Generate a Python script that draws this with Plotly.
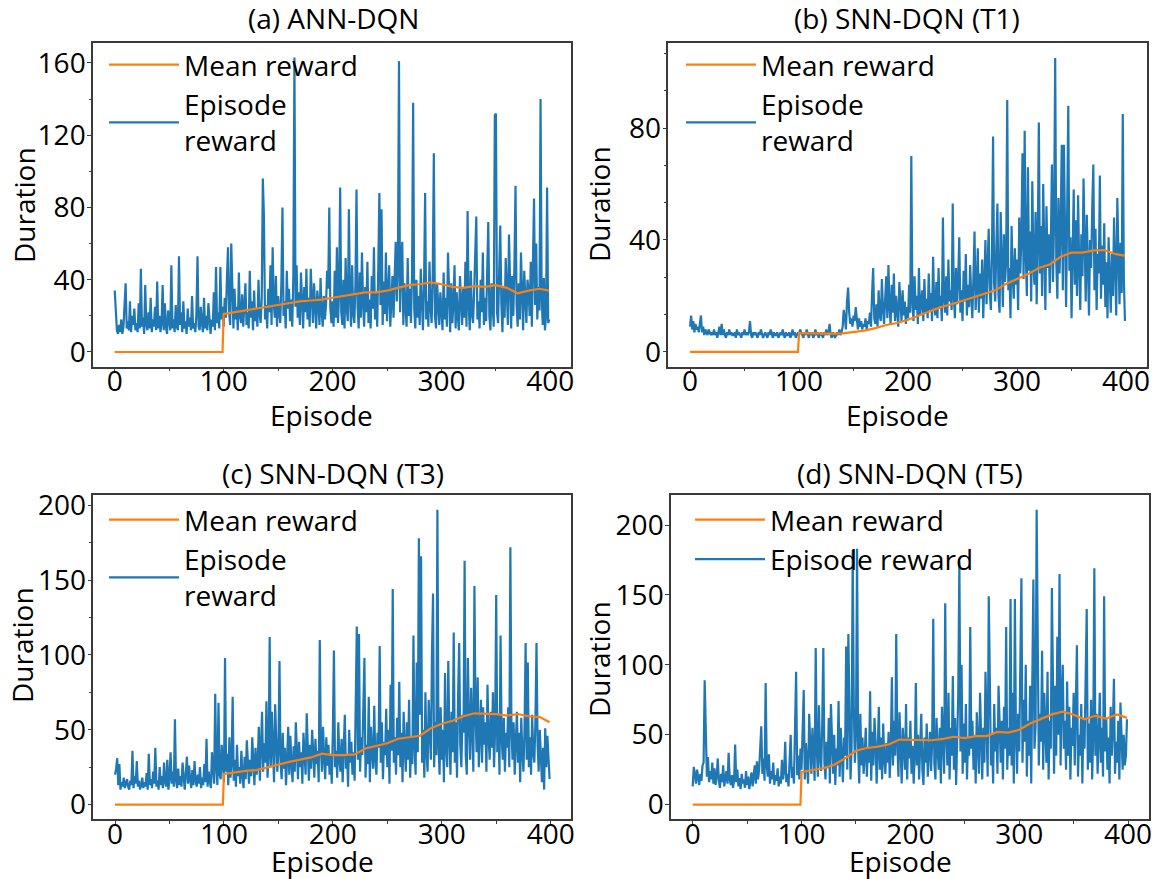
import plotly.graph_objects as go

# ---------------- data ----------------
episodes = list(range(400))
mean_episodes = [0, 99, 100, 110, 120, 130, 140, 150, 160, 170, 180, 190, 200, 210, 220, 230,
                 240, 250, 260, 270, 280, 290, 300, 310, 320, 330, 340, 350, 360, 370, 380, 390, 399]

x_tick_values = [0, 100, 200, 300, 400]
x_tick_labels = ["0", "100", "200", "300", "400"]

titles = ["(a) ANN-DQN", "(b) SNN-DQN (T1)", "(c) SNN-DQN (T3)", "(d) SNN-DQN (T5)"]
mean_label = "Mean reward"
episode_labels = ["Episode<br>reward", "Episode<br>reward", "Episode<br>reward", "Episode reward"]
x_title = "Episode"
y_title = "Duration"

ann_dqn_reward = [
    34, 22, 12, 10, 15, 11, 18, 10, 14, 26, 38, 13, 17, 12, 28, 11, 20, 15, 24, 12,
    16, 11, 27, 13, 46, 14, 19, 10, 37, 15, 12, 22, 13, 30, 11, 18, 14, 25, 12, 39,
    13, 20, 11, 16, 37, 12, 27, 14, 10, 23, 15, 12, 48, 13, 18, 11, 26, 14, 12, 53,
    15, 22, 11, 28, 13, 17, 10, 24, 14, 19, 12, 31, 13, 16, 11, 21, 53, 14, 12, 25,
    16, 11, 30, 13, 20, 12, 27, 15, 10, 18, 14, 33, 12, 47, 16, 22, 13, 47, 18, 25,
    14, 30, 19, 40, 58, 22, 15, 60, 28, 13, 35, 18, 25, 12, 44, 20, 16, 32, 14, 27,
    38, 15, 22, 13, 45, 19, 28, 12, 34, 17, 24, 14, 40, 21, 16, 30, 96, 75, 18, 26,
    13, 35, 22, 48, 15, 58, 27, 19, 42, 14, 31, 22, 16, 38, 80, 20, 28, 13, 45, 24,
    35, 17, 29, 14, 42, 163, 25, 48, 19, 33, 15, 44, 27, 13, 36, 22, 46, 18, 30, 14,
    46, 24, 16, 38, 20, 13, 34, 27, 15, 41, 22, 14, 31, 18, 26, 45, 35, 80, 24, 16,
    28, 14, 45, 19, 58, 16, 33, 91, 22, 15, 40, 13, 52, 24, 17, 79, 30, 14, 48, 21,
    16, 37, 90, 25, 13, 44, 19, 55, 28, 14, 36, 22, 50, 16, 29, 13, 42, 24, 58, 18,
    33, 14, 47, 88, 26, 79, 15, 39, 21, 55, 17, 30, 48, 14, 25, 42, 19, 36, 61, 28,
    45, 161, 22, 50, 61, 15, 38, 25, 14, 52, 20, 35, 16, 44, 138, 24, 13, 40, 19, 31,
    15, 46, 22, 12, 36, 88, 18, 28, 14, 50, 25, 16, 43, 110, 20, 13, 38, 24, 15, 33,
    21, 12, 44, 18, 30, 14, 55, 23, 11, 38, 16, 27, 48, 13, 33, 20, 12, 42, 25, 15,
    36, 19, 50, 14, 78, 26, 12, 45, 21, 16, 33, 58, 75, 18, 28, 13, 40, 22, 55, 15,
    30, 17, 46, 72, 20, 12, 38, 25, 14, 131, 132, 22, 16, 44, 70, 27, 11, 36, 19, 52,
    24, 15, 65, 30, 13, 42, 20, 48, 92, 26, 14, 38, 18, 55, 22, 12, 45, 28, 16, 40,
    34, 20, 50, 14, 44, 85, 26, 60, 18, 36, 23, 140, 30, 15, 41, 12, 20, 91, 16, 18,
]
ann_dqn_mean = [0, 0, 21, 22, 23, 24, 25, 26, 27, 28, 28.5, 29, 30, 31, 32, 33, 33, 34, 35.5, 37,
                37.5, 38.5, 37.5, 36, 35.5, 36.5, 36, 37, 35.5, 32.5, 34, 35, 34]

snn_t1_reward = [
    9, 13, 8, 11, 7, 10, 8, 9, 7, 11, 13, 7, 9, 6, 8, 7, 6, 8, 7, 6,
    7, 6, 8, 6, 7, 5, 7, 9, 6, 10, 6, 8, 6, 5, 7, 6, 8, 6, 7, 6,
    6, 7, 5, 8, 6, 7, 6, 5, 7, 6, 8, 6, 7, 6, 7, 11, 6, 5, 7, 6,
    7, 6, 5, 7, 6, 8, 6, 5, 6, 7, 6, 5, 7, 6, 8, 6, 5, 7, 6, 6,
    7, 5, 6, 7, 6, 8, 6, 5, 7, 6, 6, 7, 5, 6, 8, 6, 7, 5, 6, 7,
    6, 8, 7, 6, 5, 7, 6, 8, 6, 5, 7, 6, 7, 5, 6, 8, 6, 7, 5, 6,
    7, 6, 5, 7, 6, 8, 6, 7, 10, 6, 5, 7, 6, 5, 6, 7, 6, 8, 6, 7,
    9, 15, 12, 8, 18, 23, 14, 10, 12, 9, 13, 11, 16, 10, 8, 12, 9, 11, 8, 10,
    9, 12, 8, 11, 10, 14, 9, 21, 30, 12, 10, 17, 9, 22, 13, 11, 26, 15, 10, 19,
    27, 12, 31, 16, 10, 24, 14, 28, 11, 20, 13, 9, 25, 15, 11, 22, 13, 18, 10, 16,
    12, 24, 14, 70, 18, 11, 27, 15, 20, 10, 30, 13, 17, 22, 11, 26, 14, 19, 12, 28,
    15, 21, 11, 34, 17, 13, 25, 12, 30, 16, 20, 11, 48, 19, 14, 27, 13, 33, 18, 22,
    15, 53, 20, 12, 30, 17, 26, 41, 14, 22, 11, 29, 18, 35, 13, 24, 16, 31, 20, 12,
    27, 43, 15, 23, 37, 14, 28, 19, 33, 12, 25, 40, 17, 30, 44, 21, 15, 35, 77, 24,
    18, 38, 53, 20, 14, 50, 29, 16, 42, 25, 32, 90, 22, 30, 12, 45, 27, 19, 37, 24,
    33, 15, 48, 28, 41, 71, 26, 79, 35, 20, 66, 29, 43, 18, 61, 31, 24, 50, 17, 39,
    82, 28, 45, 20, 60, 34, 15, 52, 30, 42, 21, 38, 67, 25, 48, 105, 32, 19, 55, 28,
    44, 74, 22, 74, 38, 16, 50, 88, 29, 41, 12, 35, 58, 24, 47, 20, 56, 31, 15, 42,
    27, 62, 36, 18, 49, 25, 13, 40, 30, 52, 67, 22, 44, 15, 35, 28, 63, 19, 38, 24,
    46, 16, 32, 12, 41, 27, 14, 35, 20, 48, 24, 13, 55, 30, 17, 39, 21, 85, 26, 11,
]
snn_t1_mean = [0, 0, 6.7, 6.6, 6.6, 6.5, 6.6, 7.0, 7.6, 8.5, 9.6, 10.3, 11.5, 13, 14.5, 16, 17,
               18.3, 19.6, 20.8, 22, 24.3, 26, 27.8, 30, 31.2, 34, 35.5, 35.5, 36.3, 36.4, 35, 34.3]

snn_t3_reward = [
    20, 24, 31, 13, 27, 10, 15, 12, 18, 11, 14, 17, 12, 10, 16, 13, 36, 11, 19, 14,
    29, 12, 16, 10, 13, 18, 11, 15, 12, 21, 10, 34, 13, 17, 11, 22, 14, 38, 12, 16,
    10, 25, 13, 19, 11, 28, 15, 12, 30, 10, 18, 35, 14, 22, 12, 57, 16, 11, 24, 13,
    19, 12, 28, 15, 10, 21, 32, 14, 26, 17, 11, 23, 13, 29, 16, 12, 20, 14, 25, 11,
    18, 13, 27, 15, 44, 12, 22, 16, 11, 35, 19, 14, 74, 25, 13, 68, 20, 17, 40, 28,
    15, 98, 22, 34, 13, 45, 18, 28, 72, 16, 30, 12, 40, 19, 25, 14, 36, 20, 11, 32,
    17, 43, 22, 14, 30, 19, 45, 24, 13, 38, 20, 27, 52, 16, 35, 62, 22, 41, 28, 69,
    18, 33, 112, 25, 62, 30, 15, 67, 40, 22, 35, 96, 28, 17, 48, 24, 38, 13, 30, 52,
    20, 46, 27, 15, 39, 22, 55, 30, 17, 42, 25, 35, 14, 48, 28, 20, 61, 33, 16, 40,
    24, 50, 30, 18, 44, 27, 36, 15, 110, 38, 22, 52, 31, 17, 45, 26, 40, 20, 33, 14,
    48, 103, 25, 36, 18, 55, 30, 22, 44, 15, 38, 60, 24, 33, 12, 50, 28, 42, 20, 35,
    16, 58, 119, 30, 114, 22, 45, 33, 60, 98, 18, 40, 27, 72, 15, 52, 35, 24, 66, 30,
    20, 48, 38, 106, 28, 55, 17, 42, 33, 64, 25, 50, 14, 80, 36, 144, 28, 45, 20, 58,
    33, 82, 25, 48, 15, 62, 38, 22, 55, 30, 70, 18, 45, 27, 113, 40, 20, 95, 35, 178,
    60, 166, 28, 50, 18, 75, 35, 22, 70, 45, 30, 100, 141, 25, 55, 33, 197, 40, 20, 65,
    30, 50, 15, 88, 38, 25, 96, 45, 20, 62, 35, 115, 28, 55, 18, 72, 108, 40, 25, 60,
    48, 163, 33, 20, 98, 55, 30, 78, 40, 22, 146, 60, 35, 85, 25, 50, 70, 28, 65, 40,
    55, 22, 80, 45, 30, 62, 38, 75, 25, 50, 140, 35, 60, 20, 113, 45, 30, 58, 22, 48,
    38, 65, 25, 172, 50, 30, 55, 20, 42, 62, 28, 48, 15, 58, 35, 22, 50, 108, 30, 95,
    25, 45, 20, 60, 35, 28, 55, 108, 40, 22, 50, 30, 15, 38, 10, 51, 25, 46, 33, 17,
]
snn_t3_mean = [0, 0, 20.5, 21.5, 22.5, 23, 25, 27, 28.5, 30, 31.5, 34, 33, 33, 33.5, 37.5, 39.5,
               41, 44, 45, 46, 51, 54, 56, 59, 61, 61, 60.5, 59.5, 60.5, 59, 58.5, 55]

snn_t5_reward = [
    13, 27, 22, 15, 25, 18, 14, 22, 17, 28, 30, 89, 45, 20, 34, 16, 24, 18, 30, 15,
    26, 14, 20, 33, 17, 12, 22, 16, 28, 13, 19, 24, 15, 37, 18, 14, 21, 12, 17, 43,
    16, 25, 13, 19, 11, 22, 15, 18, 12, 24, 14, 20, 11, 17, 23, 13, 19, 28, 15, 31,
    18, 25, 40, 56, 22, 33, 17, 87, 28, 20, 36, 15, 24, 18, 30, 14, 21, 17, 26, 13,
    20, 15, 32, 18, 24, 45, 16, 22, 13, 38, 50, 19, 27, 15, 60, 95, 21, 35, 18, 40,
    25, 50, 82, 18, 44, 30, 15, 65, 37, 22, 55, 28, 17, 112, 40, 20, 71, 33, 24, 58,
    112, 30, 18, 45, 26, 62, 15, 72, 35, 22, 50, 14, 40, 28, 74, 20, 55, 32, 16, 48,
    35, 113, 25, 122, 60, 18, 42, 182, 70, 30, 50, 183, 40, 15, 65, 28, 48, 22, 35, 55,
    20, 40, 30, 81, 17, 52, 28, 62, 45, 15, 38, 70, 25, 48, 18, 58, 33, 22, 44, 30,
    52, 19, 40, 91, 28, 60, 35, 122, 45, 20, 66, 30, 15, 55, 38, 25, 72, 18, 48, 33,
    60, 22, 42, 15, 35, 87, 28, 50, 18, 40, 65, 25, 14, 48, 30, 58, 20, 38, 52, 24,
    45, 133, 30, 18, 62, 40, 25, 55, 15, 70, 35, 22, 144, 48, 28, 80, 18, 55, 35, 92,
    25, 62, 14, 45, 80, 174, 38, 100, 22, 58, 30, 72, 18, 48, 35, 127, 40, 60, 25, 50,
    15, 66, 35, 22, 80, 45, 18, 55, 30, 95, 40, 20, 149, 62, 28, 50, 15, 72, 38, 55,
    22, 85, 45, 30, 60, 18, 70, 40, 127, 25, 55, 35, 147, 28, 80, 15, 147, 50, 22, 65,
    38, 90, 162, 30, 75, 45, 100, 20, 60, 35, 85, 15, 70, 161, 40, 55, 211, 90, 28, 65,
    45, 110, 25, 80, 50, 30, 95, 18, 60, 40, 155, 70, 22, 85, 35, 120, 50, 165, 28, 75,
    100, 40, 60, 25, 88, 35, 70, 18, 55, 42, 80, 28, 65, 114, 20, 50, 35, 72, 15, 62,
    40, 95, 140, 25, 58, 30, 75, 18, 50, 169, 35, 65, 22, 48, 80, 30, 55, 20, 149, 38,
    62, 25, 48, 15, 70, 35, 55, 90, 22, 45, 30, 60, 18, 73, 40, 25, 50, 28, 35, 61,
]
snn_t5_mean = [0, 0, 23.4, 24.5, 26, 28.5, 33, 38.5, 40.5, 41.5, 43, 46.5, 46.5, 46, 46, 47, 48.5,
               47.5, 49, 49, 52, 51.5, 53.5, 58, 61.5, 64.5, 66.5, 64.3, 61, 63.5, 61.5, 64.5, 62]

y_tick_values = [[0, 40, 80, 120, 160], [0, 40, 80], [0, 50, 100, 150, 200], [0, 50, 100, 150, 200]]

rewards = [ann_dqn_reward, snn_t1_reward, snn_t3_reward, snn_t5_reward]
means = [ann_dqn_mean, snn_t1_mean, snn_t3_mean, snn_t5_mean]

# ---------------- layout helpers ----------------
W, H = 1159, 879
BLUE = "#1f77b4"
ORANGE = "#ff7f0e"
FONT = "Open Sans, Noto Sans, DejaVu Sans, sans-serif"
FRAME = "#3a3a3a"

# frames in pixels: left, right, top, bottom
frames = [(93, 571, 42.7, 366.7), (668.3, 1146.7, 42.7, 366.7),
          (93.3, 571.3, 495, 819.3), (671, 1148.7, 495, 819.3)]
y_ranges = [[-8.15, 171.2], [-5.3, 110.5], [-9.85, 206.9], [-10.55, 221.5]]
y_minor = [20, 40 / 3, 25, None]
title_pos = [(333, 18), (907, 18), (333, 473), (910, 473)]
xtitle_pos = [(321, 415), (897, 415), (322, 861), (900, 861)]
ytitle_pos = [(24, 205), (599, 204), (22, 645), (599, 659)]
legend_pos = [(104, 40), (681, 40), (104, 495), (690, 495)]


def px_x(v):
    return v / W


def px_y(v):
    return 1 - v / H


fig = go.Figure()
legend_names = ["legend", "legend2", "legend3", "legend4"]
annotations = []

for i in range(4):
    suffix = "" if i == 0 else str(i + 1)
    xa, ya = "x" + suffix, "y" + suffix
    fig.add_trace(go.Scatter(
        x=episodes, y=rewards[i], mode="lines", name=episode_labels[i],
        line=dict(color=BLUE, width=2.2), xaxis=xa, yaxis=ya,
        legend=legend_names[i], legendrank=2, hoverinfo="x+y"))
    fig.add_trace(go.Scatter(
        x=mean_episodes, y=means[i], mode="lines", name=mean_label,
        line=dict(color=ORANGE, width=2.2), xaxis=xa, yaxis=ya,
        legend=legend_names[i], legendrank=1, hoverinfo="x+y"))

    l, r, t, b = frames[i]
    common = dict(showgrid=False, zeroline=False, showline=True, mirror=True,
                  linecolor=FRAME, linewidth=1.5, ticks="outside", ticklen=4,
                  tickwidth=1.2, tickcolor=FRAME, automargin=False,
                  tickfont=dict(family=FONT, size=28, color="black"))
    xaxis = dict(common, domain=[px_x(l), px_x(r)], anchor=ya, range=[-19.95, 418.95],
                 tickmode="array", tickvals=x_tick_values, ticktext=x_tick_labels,
                 ticklabelstandoff=-15,
                 minor=dict(dtick=50, tick0=0, ticks="outside", ticklen=2.5, tickcolor=FRAME))
    yaxis = dict(common, domain=[px_y(b), px_y(t)], anchor=xa, range=y_ranges[i],
                 tickmode="array", tickvals=y_tick_values[i], ticklabelstandoff=-4,
                 ticktext=[str(v) for v in y_tick_values[i]])
    if y_minor[i]:
        yaxis["minor"] = dict(dtick=y_minor[i], tick0=0, ticks="outside", ticklen=2.5,
                              tickcolor=FRAME)
    fig.update_layout(**{"xaxis" + suffix: xaxis, "yaxis" + suffix: yaxis})

    lx, ly = legend_pos[i]
    fig.update_layout(**{legend_names[i]: dict(
        x=px_x(lx), y=px_y(ly), xanchor="left", yanchor="top", itemwidth=70,
        bgcolor="rgba(0,0,0,0)", borderwidth=0, tracegroupgap=0,
        font=dict(family=FONT, size=28, color="black"))})

    tx, ty = title_pos[i]
    annotations.append(dict(text=titles[i], x=px_x(tx), y=px_y(ty), xref="paper", yref="paper",
                            xanchor="center", yanchor="middle", showarrow=False,
                            font=dict(family=FONT, size=28, color="black")))
    ex, ey = xtitle_pos[i]
    annotations.append(dict(text=x_title, x=px_x(ex), y=px_y(ey), xref="paper", yref="paper",
                            xanchor="center", yanchor="middle", showarrow=False,
                            font=dict(family=FONT, size=28, color="black")))
    dx, dy = ytitle_pos[i]
    annotations.append(dict(text=y_title, x=px_x(dx), y=px_y(dy), xref="paper", yref="paper",
                            xanchor="center", yanchor="middle", showarrow=False, textangle=-90,
                            font=dict(family=FONT, size=28, color="black")))

fig.update_layout(width=W, height=H, margin=dict(l=0, r=0, t=0, b=0),
                  paper_bgcolor="white", plot_bgcolor="white", template="none",
                  annotations=annotations, showlegend=True,
                  font=dict(family=FONT, size=28, color="black"))

fig.write_html("out.html", config={"displayModeBar": False},
               post_script="document.body.style.margin='0px';")
